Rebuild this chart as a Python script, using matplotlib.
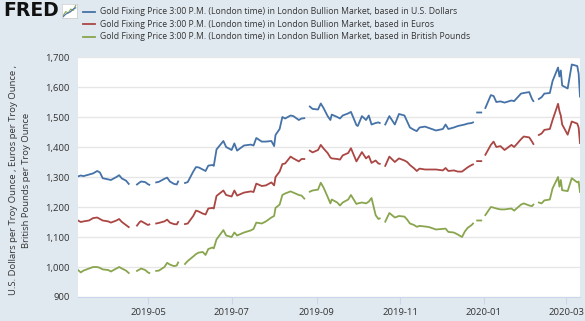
import matplotlib
matplotlib.use('Agg')
import matplotlib.pyplot as plt
import matplotlib.dates as mdates
import pandas as pd
import numpy as np

nan = np.nan

# dates of the sampled points (NaN rows make the gaps in the lines)
dates = ['2019-03-11', '2019-03-13', '2019-03-15', '2019-03-19', '2019-03-22', '2019-03-25',
         '2019-03-27', '2019-03-29', '2019-04-02', '2019-04-04', '2019-04-08', '2019-04-10',
         '2019-04-12', '2019-04-15', '2019-04-17', '2019-04-19',
         '2019-04-23', '2019-04-25', '2019-04-26', '2019-04-29', '2019-05-01', '2019-05-02', '2019-05-04',
         '2019-05-07', '2019-05-09', '2019-05-13', '2019-05-15', '2019-05-17', '2019-05-20',
         '2019-05-22', '2019-05-23', '2019-05-25',
         '2019-05-28', '2019-05-30', '2019-06-03', '2019-06-05', '2019-06-07', '2019-06-10',
         '2019-06-12', '2019-06-14', '2019-06-17', '2019-06-18', '2019-06-20', '2019-06-25',
         '2019-06-27', '2019-07-01', '2019-07-03', '2019-07-05', '2019-07-10', '2019-07-15',
         '2019-07-17', '2019-07-19', '2019-07-23', '2019-07-26', '2019-07-30', '2019-08-01',
         '2019-08-02', '2019-08-05', '2019-08-07', '2019-08-09', '2019-08-13', '2019-08-15',
         '2019-08-19', '2019-08-21', '2019-08-23', '2019-08-26',
         '2019-08-27', '2019-08-29', '2019-09-02', '2019-09-04', '2019-09-06', '2019-09-09',
         '2019-09-11', '2019-09-12', '2019-09-16', '2019-09-18', '2019-09-20', '2019-09-24',
         '2019-09-26', '2019-09-30', '2019-10-01', '2019-10-04', '2019-10-07', '2019-10-09',
         '2019-10-11', '2019-10-14', '2019-10-16', '2019-10-17', '2019-10-19',
         '2019-10-21', '2019-10-24', '2019-10-28', '2019-10-31', '2019-11-04', '2019-11-06',
         '2019-11-08', '2019-11-11', '2019-11-13', '2019-11-15', '2019-11-19', '2019-11-22',
         '2019-11-27', '2019-12-02', '2019-12-04', '2019-12-06', '2019-12-10', '2019-12-13',
         '2019-12-16', '2019-12-18', '2019-12-20', '2019-12-23', '2019-12-24', '2019-12-26',
         '2019-12-27', '2019-12-30', '2019-12-31',
         '2020-01-02', '2020-01-06', '2020-01-08', '2020-01-10', '2020-01-13', '2020-01-16',
         '2020-01-21', '2020-01-23', '2020-01-28', '2020-01-30', '2020-02-03', '2020-02-05',
         '2020-02-06', '2020-02-08',
         '2020-02-10', '2020-02-12', '2020-02-14', '2020-02-18', '2020-02-20', '2020-02-24',
         '2020-02-25', '2020-02-26', '2020-02-27', '2020-03-02', '2020-03-05', '2020-03-09',
         '2020-03-10', '2020-03-11']

usd = [1302, 1305, 1303, 1308, 1312, 1320, 1315, 1296, 1292, 1290, 1300, 1306, 1295, 1288, 1277, nan,
       1275, 1282, 1285, 1283, 1276, 1274, nan,
       1282, 1284, 1294, 1298, 1285, 1277, 1275, 1285, nan,
       1280, 1283, 1318, 1333, 1332, 1325, 1320, 1338, 1340, 1337, 1392, 1420,
       1400, 1390, 1412, 1388, 1405, 1408, 1405, 1430, 1418, 1418, 1420, 1403,
       1440, 1460, 1500, 1495, 1505, 1503, 1490, 1495, 1496, nan,
       1535, 1527, 1525, 1545, 1530, 1503, 1490, 1508, 1500, 1495, 1505, 1512,
       1517, 1473, 1470, 1503, 1490, 1505, 1475, 1480, 1482, 1480, nan,
       1475, 1503, 1475, 1510, 1505, 1485, 1465, 1457, 1453, 1465, 1468, 1463,
       1455, 1460, 1475, 1460, 1465, 1470, 1473, 1475, 1478, 1480, 1482, nan,
       1515, 1515, nan,
       1530, 1573, 1570, 1550, 1552, 1548, 1555, 1553, 1578, 1580, 1583, 1560, 1553, nan,
       1560, 1566, 1578, 1580, 1620, 1665, 1635, 1655, 1605, 1595, 1675, 1670, 1645, 1568]

eur = [1155, 1150, 1152, 1155, 1163, 1165, 1160, 1155, 1152, 1148, 1155, 1160, 1150, 1140, 1133, nan,
       1138, 1150, 1153, 1145, 1140, 1142, nan,
       1145, 1147, 1152, 1158, 1148, 1143, 1142, 1150, nan,
       1143, 1145, 1170, 1188, 1185, 1178, 1175, 1195, 1197, 1195, 1237, 1255,
       1240, 1235, 1255, 1238, 1248, 1252, 1250, 1278, 1270, 1272, 1282, 1272,
       1300, 1318, 1343, 1345, 1368, 1362, 1352, 1360, 1360, nan,
       1388, 1382, 1390, 1407, 1395, 1380, 1365, 1362, 1360, 1358, 1372, 1380,
       1396, 1352, 1360, 1383, 1362, 1370, 1347, 1355, 1345, 1344, nan,
       1337, 1368, 1350, 1362, 1355, 1350, 1340, 1329, 1320, 1328, 1325, 1325,
       1325, 1322, 1330, 1320, 1322, 1318, 1318, 1325, 1332, 1340, 1342, nan,
       1353, 1353, nan,
       1374, 1407, 1418, 1400, 1403, 1390, 1407, 1400, 1426, 1435, 1432, 1418, 1410, nan,
       1440, 1445, 1457, 1460, 1490, 1544, 1520, 1505, 1475, 1441, 1485, 1478, 1465, 1413]

gbp = [990, 982, 988, 995, 1000, 1000, 997, 992, 990, 985, 995, 1000, 995, 988, 980, nan,
       987, 992, 995, 990, 982, 980, nan,
       987, 988, 1000, 1014, 1008, 1003, 1005, 1015, nan,
       1010, 1020, 1035, 1043, 1048, 1050, 1040, 1060, 1065, 1062, 1092, 1123,
       1105, 1100, 1115, 1105, 1115, 1122, 1127, 1148, 1145, 1152, 1165, 1170,
       1197, 1208, 1240, 1245, 1252, 1248, 1240, 1238, 1228, nan,
       1251, 1255, 1258, 1281, 1265, 1234, 1212, 1225, 1215, 1205, 1215, 1225,
       1240, 1210, 1212, 1215, 1212, 1218, 1230, 1173, 1160, 1162, nan,
       1151, 1180, 1165, 1170, 1168, 1158, 1145, 1140, 1134, 1137, 1135, 1133,
       1125, 1127, 1128, 1117, 1115, 1108, 1100, 1118, 1130, 1140, 1145, nan,
       1155, 1155, nan,
       1173, 1200, 1198, 1195, 1192, 1192, 1195, 1188, 1208, 1212, 1205, 1203, 1208, nan,
       1215, 1212, 1222, 1225, 1262, 1300, 1268, 1290, 1256, 1253, 1296, 1282, 1285, 1250]

labels = ['Gold Fixing Price 3:00 P.M. (London time) in London Bullion Market, based in U.S. Dollars',
          'Gold Fixing Price 3:00 P.M. (London time) in London Bullion Market, based in Euros',
          'Gold Fixing Price 3:00 P.M. (London time) in London Bullion Market, based in British Pounds']
colors = ['#4572a7', '#aa4643', '#89a54e']

plt.rcParams['font.family'] = ['Open Sans', 'DejaVu Sans']

x = pd.to_datetime(dates)
bg = '#e1e9f0'
fig = plt.figure(figsize=(5.85, 3.21), dpi=100, facecolor=bg)
ax = fig.add_axes([78/585, 1 - 297/321, 502/585, 240/321])
ax.set_facecolor('white')

for vals, c in zip([usd, eur, gbp], colors):
    ax.plot(x, vals, color=c, lw=1.3)

ax.set_ylim(900, 1700)
ax.set_yticks(np.arange(900, 1701, 100))
ax.set_yticklabels([f'{v:,}' for v in range(900, 1701, 100)])
ax.set_xlim(pd.Timestamp('2019-03-11'), pd.Timestamp('2020-03-11'))
ax.set_xticks(pd.to_datetime(['2019-05-01', '2019-07-01', '2019-09-01', '2019-11-01', '2020-01-01', '2020-03-01']))
ax.xaxis.set_major_formatter(mdates.DateFormatter('%Y-%m'))
ax.yaxis.grid(True, color='#e6e6e6', lw=1)
ax.set_axisbelow(True)
for s in ['top', 'right', 'left']:
    ax.spines[s].set_visible(False)
ax.spines['bottom'].set_color('#ccd6eb')
ax.tick_params(axis='y', length=0, pad=6, labelsize=6.8, labelcolor='#333333')
ax.tick_params(axis='x', length=5, color='#ccd6eb', pad=3, labelsize=6.8, labelcolor='#333333')

# y axis title, two lines
fig.text(20/585, 1 - 180/321,
         'U.S. Dollars per Troy Ounce , Euros per Troy Ounce ,\nBritish Pounds per Troy Ounce',
         rotation=90, ha='center', va='center', fontsize=6.8, color='#333333', linespacing=1.45)

# header: logo + legend
fig.text(3/585, 1 - 11/321, 'FRED', fontsize=13.5, fontweight='heavy', color='#111111',
         va='center', ha='left', family=['DejaVu Sans'])
icon = fig.add_axes([62/585, 1 - 18/321, 15/585, 14/321])
icon.set_facecolor('white')
icon.plot([0, 2, 4, 6, 8, 10], [1, 4, 3, 6, 5, 9], color='#89a54e', lw=0.8)
icon.plot([0, 2, 4, 6, 8, 10], [0, 2, 3, 4, 6, 7], color='#4572a7', lw=0.8)
icon.set_xlim(-1, 11)
icon.set_ylim(-1, 10)
icon.set_xticks([])
icon.set_yticks([])
for s in icon.spines.values():
    s.set_color('#cccccc')
    s.set_linewidth(0.5)

for i, (lab, c) in enumerate(zip(labels, colors)):
    yy = 1 - (12 + i * 12.3) / 321
    fig.add_artist(plt.Line2D([83/585, 95/585], [yy, yy], color=c, lw=1.3, transform=fig.transFigure))
    fig.text(100/585, yy, lab, fontsize=6.2, color='#333333', va='center', ha='left')

plt.savefig('out.png', dpi=100, facecolor=bg)
